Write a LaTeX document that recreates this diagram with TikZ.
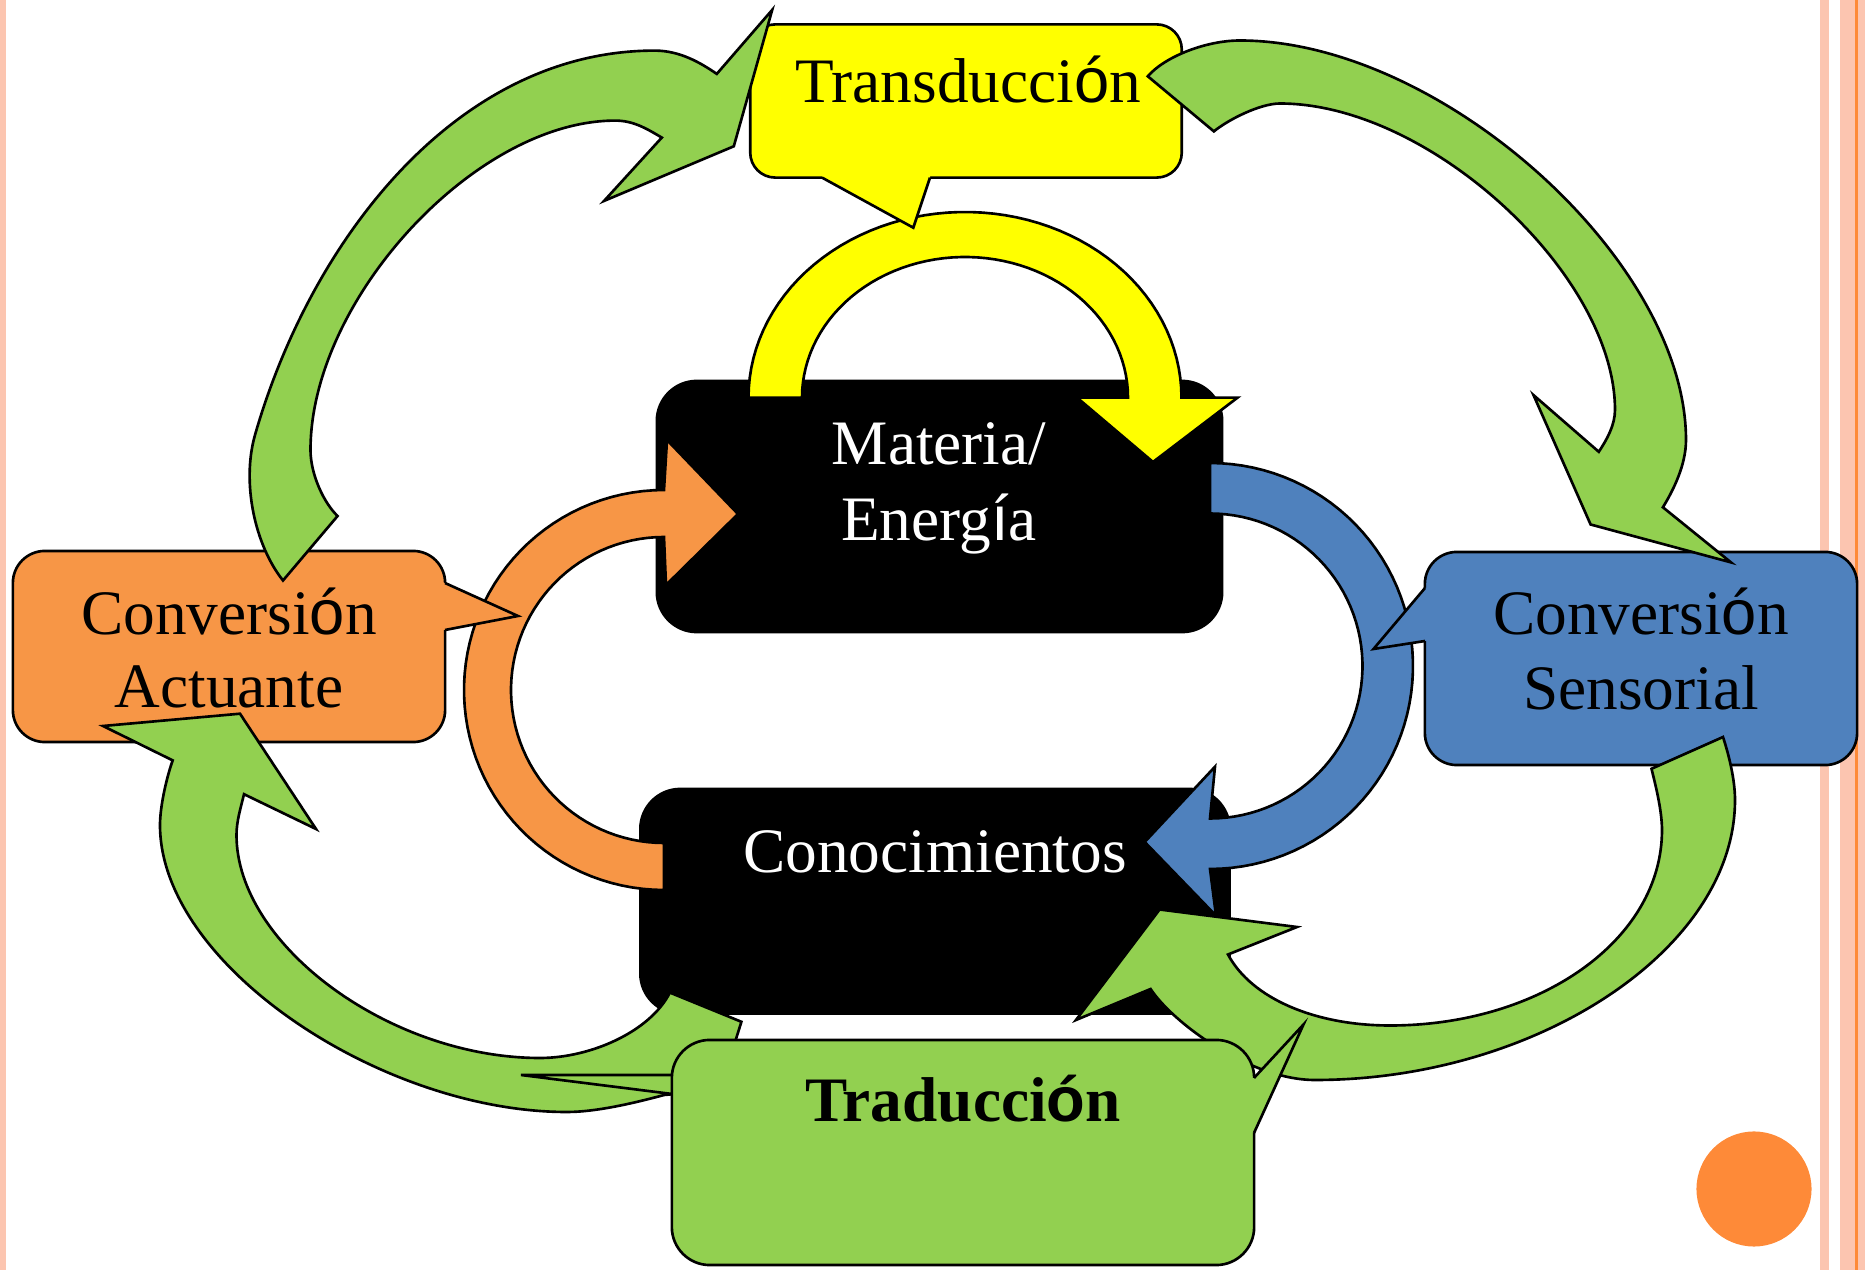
\documentclass[tikz,border=0pt]{standalone}
\usepackage{fontspec}
\setmainfont{Liberation Serif}
\newfontfamily\accfont{Liberation Sans}
\newcommand{\sanso}{{\accfont ó}}
\newcommand{\sansi}{{\accfont í}}
\definecolor{actorange}{HTML}{F79646}
\definecolor{senblue}{HTML}{4F81BD}
\definecolor{tragreen}{HTML}{92D050}
\definecolor{transyellow}{HTML}{FFFF00}
\definecolor{stripe}{HTML}{FCC5B0}
\definecolor{dotorange}{HTML}{FE8A38}
\begin{document}
\begin{tikzpicture}[x=0.01cm, y=-0.01cm,
    panel/.style={rectangle, draw, line width=0.75pt, inner sep=0pt, outer sep=0pt},
    blockarrow/.style={draw, line width=0.75pt, line join=miter},
    arrowg/.style={blockarrow, fill=tragreen},
    lbl/.style={font=\fontsize{18}{21.6}\selectfont, inner sep=0pt, anchor=base}]
        \useasboundingbox (0,0) rectangle (1865,1270);

        % Page stripes and dot
        \fill[stripe] (0,0) rectangle (6,1270);
        \fill[stripe] (1820,0) rectangle (1829,1270);
        \fill[stripe] (1840,0) rectangle (1865,1270);
        \fill[dotorange] (1855,0) rectangle (1858,1270);
        \fill[dotorange] (1754,1189) circle[radius=0.575cm];

        % Black boxes
        \node[panel, fill=black, rounded corners=0.4cm, minimum width=5.65cm, minimum height=2.51cm] (mat) at (939.5,506.5) {};
        \node[panel, fill=black, rounded corners=0.4cm, minimum width=5.89cm, minimum height=2.245cm] (con) at (935,901.25) {};

        % Yellow loop over Materia
        \filldraw[blockarrow, fill=transyellow]
        plot[domain=180:360, samples=60, variable=\t] ({965+216.5*cos(\t)},{397.6+185.6*sin(\t)})
        -- (1237.6,397.6) -- (1153,462) -- (1077,397.6)
        -- plot[domain=360:180, samples=60, variable=\t] ({965+163*cos(\t)},{397.6+140.6*sin(\t)}) -- cycle;

        % Orange loop up to Materia
        \filldraw[blockarrow, fill=actorange]
        plot[domain=90:270, samples=60, variable=\t] ({664+200*cos(\t)},{690+200*sin(\t)})
        -- (667,440) -- (738,514) -- (666,585)
        -- plot[domain=270:90, samples=60, variable=\t] ({664+153*cos(\t)},{690+153*sin(\t)}) -- cycle;

        % Blue loop down to Conocimientos
        \filldraw[blockarrow, fill=senblue]
        plot[domain=-90:90, samples=60, variable=\t] ({1210+203*cos(\t)},{666+203*sin(\t)})
        -- (1216,915.7) -- (1144.7,842) -- (1215,766.7)
        -- plot[domain=90:-90, samples=60, variable=\t] ({1210+152.5*cos(\t)},{666+152.5*sin(\t)}) -- cycle;

        % Transduccion box
        \node[panel, fill=transyellow, rounded corners=0.25cm, minimum width=4.313cm, minimum height=1.531cm] (trans) at (966,101) {};
        \fill[transyellow] (822,174) -- (822,177.6) -- (913.3,227.7) -- (930,177.6) -- (930,174) -- cycle;
        \draw[line width=0.75pt] (822,177.6) -- (913.3,227.7) -- (930,177.6);

        % Conversion Actuante box
        \node[panel, fill=actorange, rounded corners=0.32cm, minimum width=4.32cm, minimum height=1.91cm] (act) at (229,646.5) {};
        \fill[actorange] (441,583) -- (445,583) -- (518,616) -- (445,630) -- (441,630) -- cycle;
        \draw[line width=0.75pt] (445,583) -- (518,616) -- (445,630);

        % Conversion Sensorial box
        \node[panel, fill=senblue, rounded corners=0.32cm, minimum width=4.32cm, minimum height=2.13cm] (sen) at (1641,658.5) {};
        \fill[senblue] (1429,588) -- (1425,588) -- (1373.5,649) -- (1425,641) -- (1429,641) -- cycle;
        \draw[line width=0.75pt] (1425,588) -- (1373.5,649) -- (1425,641);

        % Green arrow: Actuante to Transduccion
        \filldraw[arrowg] (283,580.5) .. controls (255,545.4) and (241.3,483) .. (255,435)
        .. controls (310,243) and (454.7,50.6) .. (654.7,50.6)
        .. controls (679.7,50.6) and (700.3,62.6) .. (716.8,73.9)
        -- (772.2,9.9) -- (733.8,146.3) -- (604.1,200.9) -- (661.8,137.6)
        .. controls (646.3,128.4) and (633.2,120.6) .. (615.2,120.6)
        .. controls (475.2,120.6) and (310.5,300) .. (310.5,450)
        .. controls (310.5,475) and (324.5,503.8) .. (337.6,516) -- cycle;

        % Green arrow: Transduccion to Sensorial
        \filldraw[arrowg] (1147.8,76.3) .. controls (1164,57.3) and (1205,40.5) .. (1240,40.5)
        .. controls (1440,40.5) and (1686,260) .. (1686,440)
        .. controls (1686,465) and (1673.3,490.3) .. (1662.9,507.3)
        -- (1731,562.4) -- (1590.6,524.5) -- (1533.5,395.1) -- (1598.8,451.8)
        .. controls (1607,439.4) and (1615,425) .. (1615,410)
        .. controls (1615,275) and (1430,103.5) .. (1280,103.5)
        .. controls (1260,103.5) and (1227.8,119.9) .. (1213.9,131.4) -- cycle;

        % Green arrow: Traduccion to Actuante
        \filldraw[arrowg] (741.4,1021.8) -- (720,1090) -- (664.1,1095)
        .. controls (635,1102.8) and (596.8,1112) .. (566.8,1112)
        .. controls (381.8,1112) and (160,965) .. (160,825)
        .. controls (160,805) and (167.5,774.5) .. (172.7,760.4)
        -- (103,726) -- (240,713.7) -- (316,829) -- (244,794.2)
        .. controls (240.8,807.8) and (236.5,821) .. (236.5,835)
        .. controls (236.5,945) and (390,1058) .. (540,1058)
        .. controls (590,1058) and (650,1032) .. (669.9,992.6) -- cycle;
        \filldraw[arrowg] (521,1075) -- (700,1075) -- (700,1097.5) -- cycle;

        % Green arrow: Sensorial to Conocimientos
        \filldraw[arrowg] (1651.5,768.8) -- (1723,737)
        .. controls (1729.2,756) and (1735,780) .. (1735,800)
        .. controls (1735,950) and (1535,1080) .. (1315,1080)
        .. controls (1250,1080) and (1172.6,1022.6) .. (1150.6,989)
        -- (1076,1020) -- (1159.6,909.5) -- (1297,927) -- (1228,954.5)
        .. controls (1251.5,998.5) and (1315,1025.5) .. (1390,1025.5)
        .. controls (1540,1025.5) and (1662,940) .. (1662,830)
        .. controls (1662,810) and (1655.1,783.4) .. (1651.5,768.8) -- cycle;

        % Traduccion box
        \node[panel, fill=tragreen, rounded corners=0.38cm, minimum width=5.82cm, minimum height=2.25cm] (tra) at (963,1152.5) {};
        \fill[tragreen] (1250,1078) -- (1254,1078) -- (1303.5,1024.5) -- (1254,1133) -- (1250,1133) -- cycle;
        \draw[line width=0.75pt] (1254,1078) -- (1303.5,1024.5) -- (1254,1133);

        % Labels
        \node[lbl] (trans-txt) at (968,103) {Transducci\sanso n};
        \node[lbl, text=white] (mat-txt1) at (939,464.6) {Materia/};
        \node[lbl, text=white] (mat-txt2) at (939,540.4) {Energ\sansi a};
        \node[lbl, text=white] (con-txt) at (935,872.5) {Conocimientos};
        \node[lbl] (act-txt1) at (229,635) {Conversi\sanso n};
        \node[lbl] (act-txt2) at (229,708) {Actuante};
        \node[lbl] (sen-txt1) at (1641,635) {Conversi\sanso n};
        \node[lbl] (sen-txt2) at (1641,709.6) {Sensorial};
        \node[lbl, font=\fontsize{18}{21.6}\selectfont\bfseries] (tra-txt) at (963,1121.8) {Traducci\sanso n};
    \end{tikzpicture}
\end{document}
